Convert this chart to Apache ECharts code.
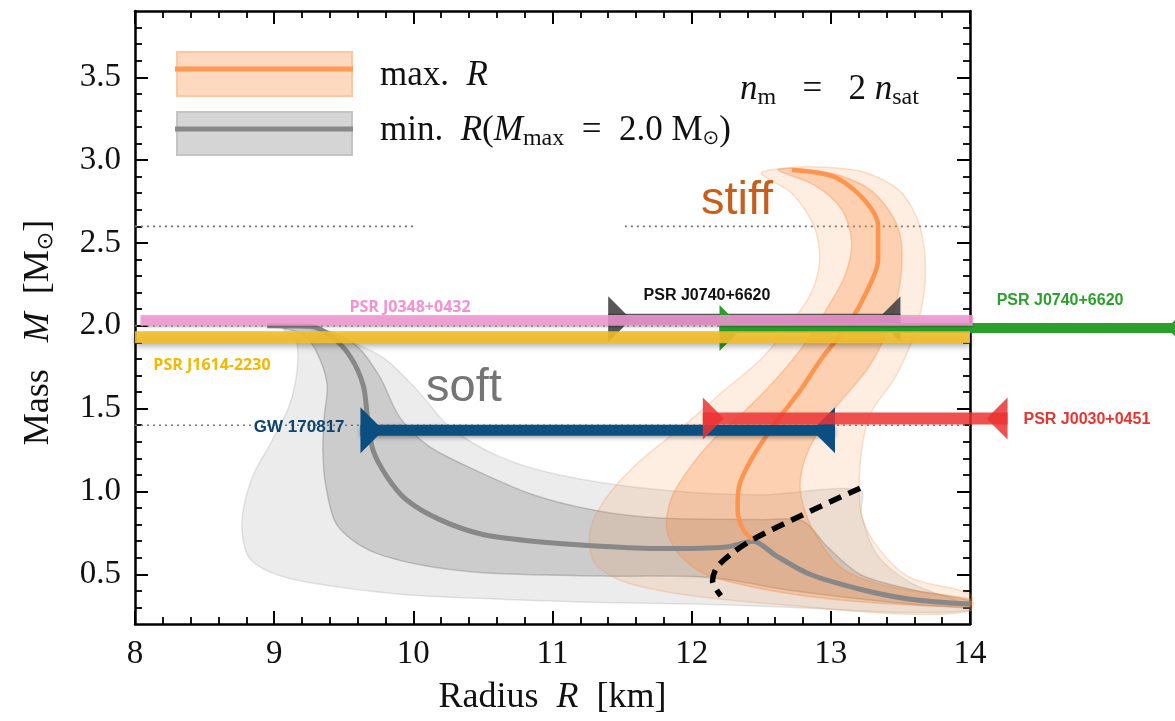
<!DOCTYPE html>
<html>
<head>
<meta charset="utf-8">
<script src="https://cdn.jsdelivr.net/npm/echarts@6/dist/echarts.min.js"></script>
<style>
html, body { margin: 0; padding: 0; background: #fff; }
#mrChart { width: 1175px; height: 721px; }
</style>
</head>
<body>
<div id="mrChart"></div>
<script>
// axis ticks
var massTicks = [0.5, 1.0, 1.5, 2.0, 2.5, 3.0, 3.5];
var massMinorTicks = [0.3, 0.4, 0.6, 0.7, 0.8, 0.9, 1.1, 1.2, 1.3, 1.4, 1.6, 1.7, 1.8, 1.9,
    2.1, 2.2, 2.3, 2.4, 2.6, 2.7, 2.8, 2.9, 3.1, 3.2, 3.3, 3.4, 3.6, 3.7, 3.8];

// soft EOS (min R, Mmax = 2.0): [R km, M Msun]
var softCenter = [[8.95, 2.0], [9.26, 1.997], [9.42, 1.93], [9.55, 1.81], [9.64, 1.64], [9.67, 1.45],
    [9.71, 1.25], [9.81, 1.09], [9.95, 0.95], [10.19, 0.83], [10.5, 0.74], [10.86, 0.70], [11.34, 0.67],
    [11.77, 0.655], [12.25, 0.665], [12.44, 0.70], [12.61, 0.61], [12.85, 0.50], [13.21, 0.41],
    [13.57, 0.35], [14.0, 0.32]];
var softInnerLeft = [[9.0, 2.0], [9.2, 1.95], [9.3, 1.85], [9.38, 1.65], [9.36, 1.45], [9.35, 1.25],
    [9.37, 1.04], [9.45, 0.80], [9.67, 0.65], [10.03, 0.56], [10.5, 0.51], [11.34, 0.49], [12.13, 0.48],
    [12.73, 0.40], [13.45, 0.33], [14.0, 0.30]];
var softInnerRight = [[14.0, 0.34], [13.57, 0.41], [13.21, 0.50], [12.97, 0.67], [12.8, 0.82],
    [12.49, 0.83], [11.77, 0.84], [11.34, 0.88], [10.86, 0.98], [10.39, 1.15], [10.1, 1.28], [9.9, 1.45],
    [9.76, 1.69], [9.59, 1.88], [9.35, 1.98], [9.1, 2.0]];
var softOuterLeft = [[9.05, 2.0], [9.16, 1.90], [9.16, 1.70], [9.10, 1.50], [8.98, 1.30], [8.85, 1.10],
    [8.78, 0.90], [8.77, 0.75], [8.82, 0.60], [8.98, 0.51], [9.25, 0.45], [9.9, 0.38], [10.62, 0.35],
    [11.34, 0.33], [12.0, 0.32], [12.73, 0.30], [13.5, 0.27], [14.0, 0.28]];
var softOuterRight = [[14.0, 0.31], [13.57, 0.45], [13.33, 0.62], [13.22, 0.86], [13.21, 1.01],
    [12.49, 0.98], [11.77, 1.01], [11.05, 1.10], [10.62, 1.21], [10.26, 1.39], [10.03, 1.61],
    [9.78, 1.81], [9.47, 1.93], [9.2, 1.99]];

// stiff EOS (max R)
var stiffCenter = [[12.72, 2.94], [13.02, 2.90], [13.23, 2.77], [13.34, 2.60], [13.34, 2.40],
    [13.26, 2.21], [13.12, 2.0], [12.94, 1.81], [12.78, 1.61], [12.59, 1.40], [12.44, 1.21],
    [12.34, 1.03], [12.33, 0.89], [12.37, 0.77], [12.44, 0.71]];
var stiffInnerLeft = [[12.62, 2.94], [12.88, 2.85], [13.08, 2.70], [13.15, 2.50], [13.10, 2.30],
    [12.97, 2.10], [12.82, 1.90], [12.63, 1.70], [12.40, 1.50], [12.14, 1.30], [11.95, 1.10],
    [11.85, 0.95], [11.82, 0.77], [11.92, 0.61], [12.13, 0.49], [12.73, 0.38], [13.45, 0.32], [14.0, 0.31]];
var stiffInnerRight = [[14.0, 0.35], [13.45, 0.42], [13.09, 0.53], [12.87, 0.77], [12.78, 1.01],
    [12.82, 1.21], [12.98, 1.45], [13.28, 1.76], [13.44, 2.05], [13.51, 2.36], [13.48, 2.60],
    [13.30, 2.81], [13.05, 2.91], [12.75, 2.95]];
var stiffOuterLeft = [[12.50, 2.92], [12.72, 2.80], [12.88, 2.60], [12.92, 2.40], [12.86, 2.20],
    [12.70, 2.0], [12.50, 1.80], [12.22, 1.60], [11.95, 1.40], [11.65, 1.20], [11.42, 1.0],
    [11.28, 0.80], [11.27, 0.65], [11.32, 0.55], [11.53, 0.45], [12.0, 0.37], [12.73, 0.31],
    [13.5, 0.26], [14.0, 0.28]];
var stiffOuterRight = [[14.0, 0.38], [13.57, 0.48], [13.33, 0.67], [13.22, 0.86], [13.21, 1.16],
    [13.28, 1.46], [13.47, 1.70], [13.62, 2.0], [13.68, 2.30], [13.64, 2.60], [13.50, 2.81],
    [13.23, 2.93], [12.87, 2.96], [12.65, 2.95]];

// causality / stability boundary (dashed)
var dashedBoundary = [[13.21, 1.02], [12.8, 0.86], [12.44, 0.71], [12.28, 0.62], [12.18, 0.54],
    [12.15, 0.46], [12.21, 0.37]];

// reference masses (dotted)
var refLineMass = [2.6, 2.6, 2.0, 1.4];
var refLineRLow = [8.0, 11.52, 8.0, 8.0];
var refLineRHigh = [10.02, 14.0, 14.0, 14.0];

// mass bands
var bandNames = ['PSR J1614-2230', 'PSR J0348+0432'];
var bandRLow = [8.0, 8.04];
var bandRHigh = [14.0, 14.02];
var bandMLow = [1.895, 2.0];
var bandMHigh = [1.967, 2.065];

// radius constraints (error bars)
var constraintNames = ['PSR J0740+6620', 'PSR J0740+6620', 'GW 170817', 'PSR J0030+0451'];
var constraintMass = [2.04, 1.986, 1.37, 1.44];
var constraintRLow = [11.40, 12.20, 9.62, 12.08];
var constraintRHigh = [13.50, 15.58, 13.03, 14.27];

// annotations
var labelTexts = ['PSR J0348+0432', 'PSR J1614-2230', 'GW 170817', 'PSR J0740+6620',
    'PSR J0740+6620', 'PSR J0030+0451', 'soft', 'stiff'];
var labelR = [9.976, 8.553, 9.18, 12.11, 14.647, 14.84, 10.364, 12.326];
var labelM = [2.112, 1.759, 1.386, 2.181, 2.154, 1.434, 1.626, 2.754];

var serif = "'Liberation Serif', 'DejaVu Serif', serif";
var sans = "'Liberation Sans', Arial, sans-serif";

var constraintColors = ['#3a3a3a', '#2ca02c', '#0b4f80', '#ec3232'];
var constraintOpacity = [0.85, 1, 1, 0.85];
var constraintWidth = [11, 10, 11, 12];
var bandColors = ['#f2bf2a', '#f79ad8'];
var labelColors = ['#f590d4', '#f5b800', '#0d4470', '#111', '#2ca02c', '#e8332f', '#757575', '#c65e1c'];
var labelFonts = ["bold 16px 'Open Sans', sans-serif", "bold 16px 'Open Sans', sans-serif",
    'bold 17px ' + sans, 'bold 16px ' + sans, 'bold 16px ' + sans, 'bold 16px ' + sans,
    '47px ' + sans, '47px ' + sans];

function polygonSeries(left, right, fill, stroke, z) {
    var pts = left.concat(right);
    return {
        type: 'custom', z: z, silent: true, clip: false, animation: false,
        data: pts,
        renderItem: function (params, api) {
            if (params.dataIndex !== 0) return null;
            return {
                type: 'polygon',
                shape: { points: pts.map(function (p) { return api.coord(p); }), smooth: 0.3 },
                style: { fill: fill, stroke: stroke, lineWidth: 1.5 }
            };
        }
    };
}

var chartDom = document.getElementById('mrChart');
var myChart = echarts.init(chartDom);
var option;

var refData = refLineMass.map(function (m, i) { return [refLineRLow[i], refLineRHigh[i], m]; });
var bandData = bandNames.map(function (n, i) { return [bandRLow[i], bandRHigh[i], bandMLow[i], bandMHigh[i], i]; });
var constraintData = constraintNames.map(function (n, i) {
    return [constraintRLow[i], constraintRHigh[i], constraintMass[i], i];
});
var labelData = labelTexts.map(function (t, i) { return [labelR[i], labelM[i], i]; });

var axisBase = {
    type: 'value',
    axisLine: { show: true, onZero: false, lineStyle: { color: '#000', width: 2.5 } },
    splitLine: { show: false }
};

var mathRich = {
    a: { fontFamily: serif, fontSize: 35, fill: '#111', color: '#111' },
    i: { fontFamily: serif, fontSize: 35, fontStyle: 'italic', fill: '#111', color: '#111' },
    s: { fontFamily: serif, fontSize: 24, fill: '#111', color: '#111', padding: [15, 0, 0, 0] },
    o: { fontFamily: "'DejaVu Sans', sans-serif", fontSize: 20, fill: '#111', color: '#111', padding: [15, 0, 0, 0] }
};

option = {
    animation: false,
    backgroundColor: '#fff',
    grid: { left: 135, right: 205, top: 11, bottom: 93 },
    xAxis: [
        Object.assign({}, axisBase, {
            position: 'bottom', min: 8, max: 14, interval: 1,
            axisTick: { inside: true, length: 13, lineStyle: { color: '#000', width: 2 } },
            minorTick: { show: true, splitNumber: 5, length: 7, lineStyle: { color: '#000', width: 1.8 } },
            axisLabel: { fontFamily: serif, fontSize: 33, color: '#111', margin: 14 },
            name: '{a|Radius  }{i|R}{a|  [km]}',
            nameLocation: 'middle', nameGap: 56,
            nameTextStyle: {
                rich: {
                    a: { fontFamily: serif, fontSize: 36, color: '#111' },
                    i: { fontFamily: serif, fontSize: 36, fontStyle: 'italic', color: '#111' }
                }
            }
        }),
        Object.assign({}, axisBase, {
            position: 'top', min: 8, max: 14, interval: 1,
            axisTick: { inside: true, length: 13, lineStyle: { color: '#000', width: 2 } },
            minorTick: { show: true, splitNumber: 5, length: 7, lineStyle: { color: '#000', width: 1.8 } },
            axisLabel: { show: false }
        })
    ],
    yAxis: [
        Object.assign({}, axisBase, {
            position: 'left', min: 0.2, max: 3.9,
            axisTick: { inside: true, length: 13, customValues: massTicks, lineStyle: { color: '#000', width: 2 } },
            axisLabel: {
                customValues: massTicks, fontFamily: serif, fontSize: 33, color: '#111', margin: 14,
                formatter: function (v) { return v.toFixed(1); }
            },
            name: '{a|Mass   }{i|M}{a|  [M}{o|⊙}{a|]}',
            nameLocation: 'middle', nameGap: 78,
            nameTextStyle: {
                padding: [0, 30, 0, 0],
                rich: {
                    a: { fontFamily: serif, fontSize: 36, color: '#111' },
                    i: { fontFamily: serif, fontSize: 36, fontStyle: 'italic', color: '#111' },
                    o: { fontFamily: "'DejaVu Sans', sans-serif", fontSize: 22, color: '#111', padding: [15, 0, 0, 0] }
                }
            }
        }),
        Object.assign({}, axisBase, {
            position: 'right', min: 0.2, max: 3.9,
            axisTick: { inside: true, length: 13, customValues: massTicks, lineStyle: { color: '#000', width: 2 } },
            axisLabel: { show: false }
        }),
        Object.assign({}, axisBase, {
            position: 'left', min: 0.2, max: 3.9,
            axisLine: { show: false },
            axisTick: { inside: true, length: 7, customValues: massMinorTicks, lineStyle: { color: '#000', width: 1.8 } },
            axisLabel: { show: false }
        }),
        Object.assign({}, axisBase, {
            position: 'right', min: 0.2, max: 3.9,
            axisLine: { show: false },
            axisTick: { inside: true, length: 7, customValues: massMinorTicks, lineStyle: { color: '#000', width: 1.8 } },
            axisLabel: { show: false }
        })
    ],
    graphic: [
        { type: 'rect', shape: { x: 177, y: 52, width: 175, height: 44 },
          style: { fill: '#fdd9bf', stroke: '#fcc7a2', lineWidth: 2 }, z: 100 },
        { type: 'line', shape: { x1: 175, y1: 69, x2: 353, y2: 69 },
          style: { stroke: '#fd9a55', lineWidth: 5 }, z: 101 },
        { type: 'rect', shape: { x: 177, y: 112, width: 175, height: 43 },
          style: { fill: '#d5d5d5', stroke: '#c4c4c4', lineWidth: 2 }, z: 100 },
        { type: 'line', shape: { x1: 175, y1: 129, x2: 353, y2: 129 },
          style: { stroke: '#888', lineWidth: 5 }, z: 101 },
        { type: 'text', x: 380, y: 76, z: 101,
          style: { text: '{a|max.  }{i|R}', verticalAlign: 'middle', rich: mathRich } },
        { type: 'text', x: 380, y: 131, z: 101,
          style: {
              text: '{a|min.  }{i|R}{a|(}{i|M}{s|max}{a|  =  2.0 M}{o|⊙}{a|)}',
              verticalAlign: 'middle', rich: mathRich
          } },
        { type: 'text', x: 740, y: 90, z: 101,
          style: { text: '{i|n}{s|m}{a|   =   2 }{i|n}{s|sat}', verticalAlign: 'middle', rich: mathRich } }
    ],
    series: [
        polygonSeries(softOuterLeft, softOuterRight, 'rgba(128,128,128,0.15)', 'rgba(120,120,120,0.18)', 1),
        polygonSeries(softInnerLeft, softInnerRight, 'rgba(128,128,128,0.30)', 'rgba(100,100,100,0.30)', 1),
        polygonSeries(stiffOuterLeft, stiffOuterRight, 'rgba(250,140,60,0.15)', 'rgba(240,140,70,0.25)', 2),
        polygonSeries(stiffInnerLeft, stiffInnerRight, 'rgba(250,140,60,0.30)', 'rgba(240,140,70,0.35)', 2),
        {
            type: 'custom', z: 1, silent: true, clip: false, data: refData,
            renderItem: function (params, api) {
                var a = api.coord([api.value(0), api.value(2)]);
                var b = api.coord([api.value(1), api.value(2)]);
                return { type: 'line', shape: { x1: a[0], y1: a[1], x2: b[0], y2: b[1] },
                         style: { stroke: '#777', lineWidth: 1.6, lineDash: [2, 4] } };
            }
        },
        {
            type: 'line', z: 3, data: softCenter, showSymbol: false, smooth: 0.3, silent: true,
            lineStyle: { color: '#888', width: 5 }
        },
        {
            type: 'line', z: 3, data: stiffCenter, showSymbol: false, smooth: 0.3, silent: true,
            lineStyle: { color: '#fd9550', width: 4.5 }
        },
        {
            type: 'line', z: 4, data: dashedBoundary, showSymbol: false, smooth: 0.3, silent: true,
            lineStyle: { color: '#000', width: 5.5, type: [13, 8] }
        },
        {
            type: 'custom', z: 5, silent: true, clip: false, data: constraintData.slice(0, 3),
            renderItem: function (params, api) {
                var i = api.value(3);
                var a = api.coord([api.value(0), api.value(2)]);
                var b = api.coord([api.value(1), api.value(2)]);
                var hw = constraintWidth[i] / 2, th = 23;
                var col = constraintColors[i], op = constraintOpacity[i];
                var shadow = i === 2 ? { shadowBlur: 4, shadowColor: 'rgba(0,0,0,0.35)', shadowOffsetY: 2 } : {};
                return {
                    type: 'group',
                    children: [
                        { type: 'rect', shape: { x: a[0], y: a[1] - hw, width: b[0] - a[0], height: 2 * hw },
                          style: Object.assign({ fill: col, opacity: op }, shadow) },
                        { type: 'polygon', shape: { points: [[a[0], a[1] - th], [a[0], a[1] + th], [a[0] + th, a[1]]] },
                          style: { fill: col, opacity: op } },
                        { type: 'polygon', shape: { points: [[b[0], b[1] - th], [b[0], b[1] + th], [b[0] - th, b[1]]] },
                          style: { fill: col, opacity: op } }
                    ]
                };
            }
        },
        {
            type: 'custom', z: 6, silent: true, clip: false, data: bandData,
            renderItem: function (params, api) {
                var i = api.value(4);
                var p1 = api.coord([api.value(0), api.value(3)]);
                var p2 = api.coord([api.value(1), api.value(2)]);
                return {
                    type: 'rect',
                    shape: { x: p1[0], y: p1[1], width: p2[0] - p1[0], height: p2[1] - p1[1] },
                    style: {
                        fill: bandColors[i], opacity: i === 0 ? 0.9 : 0.85,
                        shadowBlur: i === 0 ? 6 : 2, shadowColor: 'rgba(0,0,0,0.35)', shadowOffsetY: i === 0 ? 3 : 1
                    }
                };
            }
        },
        {
            type: 'custom', z: 7, silent: true, clip: false,
            data: constraintData.slice(3),
            renderItem: function (params, api) {
                var a = api.coord([api.value(0), api.value(2)]);
                var b = api.coord([api.value(1), api.value(2)]);
                var hw = constraintWidth[3] / 2, th = 21;
                var col = constraintColors[3], op = constraintOpacity[3];
                return {
                    type: 'group',
                    children: [
                        { type: 'rect', shape: { x: a[0], y: a[1] - hw, width: b[0] - a[0], height: 2 * hw },
                          style: { fill: col, opacity: op } },
                        { type: 'polygon', shape: { points: [[a[0], a[1] - th], [a[0], a[1] + th], [a[0] + th, a[1]]] },
                          style: { fill: col, opacity: op } },
                        { type: 'polygon', shape: { points: [[b[0], b[1] - th], [b[0], b[1] + th], [b[0] - th, b[1]]] },
                          style: { fill: col, opacity: op } }
                    ]
                };
            }
        },
        {
            type: 'custom', z: 8, silent: true, clip: false, data: labelData,
            renderItem: function (params, api) {
                var i = api.value(2);
                var p = api.coord([api.value(0), api.value(1)]);
                return {
                    type: 'text', x: p[0], y: p[1],
                    style: { text: labelTexts[i], fill: labelColors[i], font: labelFonts[i],
                             align: 'center', verticalAlign: 'middle' }
                };
            }
        }
    ]
};

option && myChart.setOption(option);
</script>
</body>
</html>
